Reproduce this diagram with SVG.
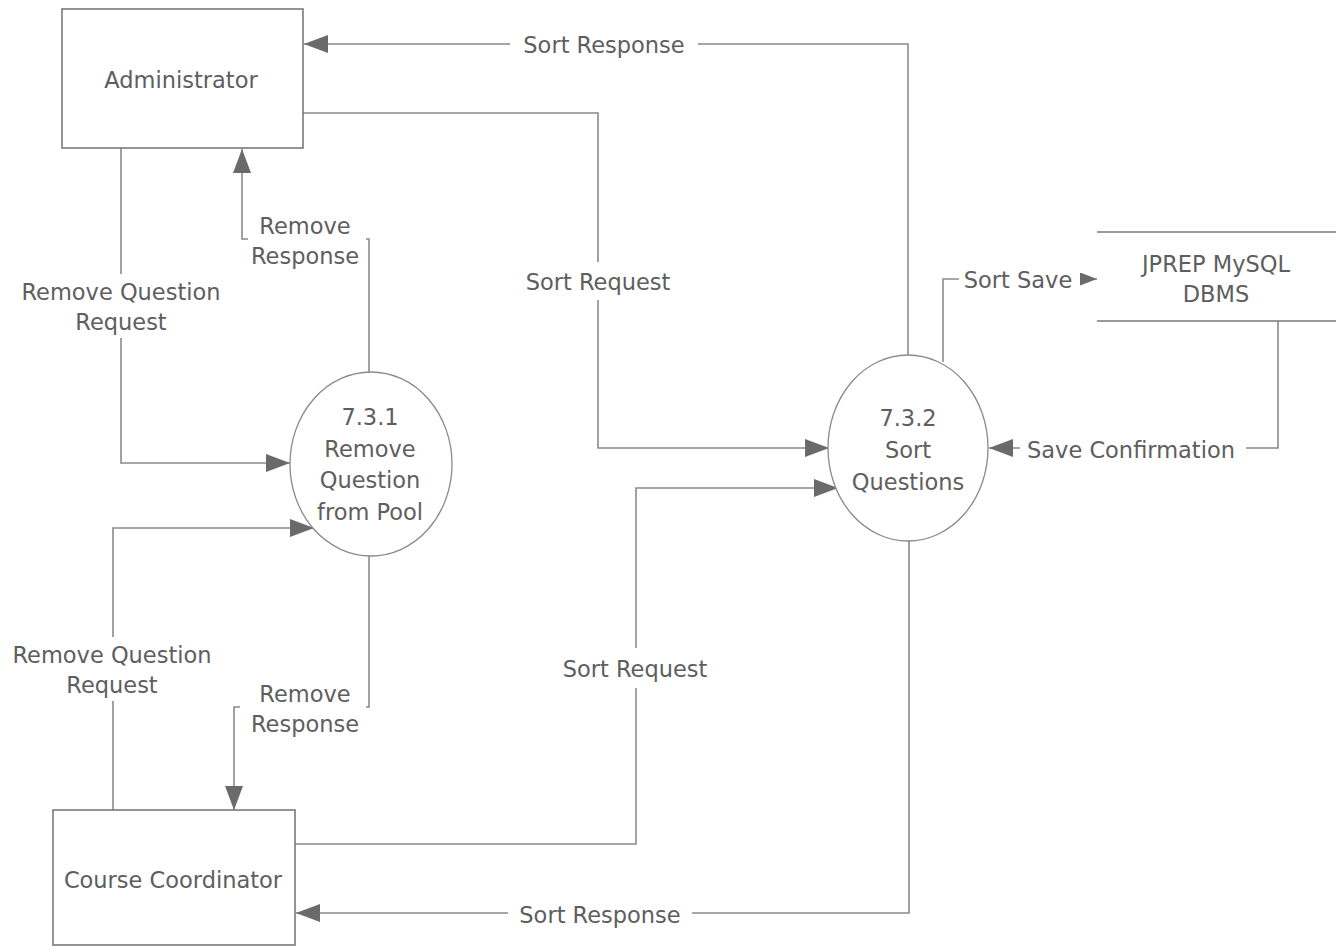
<svg xmlns="http://www.w3.org/2000/svg" width="1341" height="947" viewBox="0 0 1341 947">
<style>
.box{fill:#fff;stroke:#7a7a7a;stroke-width:1.6}
.proc{fill:#fff;stroke:#8a8a8a;stroke-width:1.3}
.store{stroke:#7a7a7a;stroke-width:1.6;fill:none}
.ln{fill:none;stroke:#8a8a8a;stroke-width:1.6}
.bg{fill:#fff;stroke:none}
text{font-family:"DejaVu Sans","Liberation Sans",sans-serif;font-size:22.5px;fill:#5e5e5e;text-anchor:middle}
</style>
<defs>
<marker id="arr" markerUnits="userSpaceOnUse" markerWidth="26" markerHeight="20" refX="24" refY="9" orient="auto">
<path d="M0,0 L24,9 L0,18 Z" fill="#6a6a6a"/>
</marker>
<marker id="arrs" markerUnits="userSpaceOnUse" markerWidth="18" markerHeight="14" refX="17" refY="6.5" orient="auto">
<path d="M0,0 L17,6.5 L0,13 Z" fill="#6a6a6a"/>
</marker>
</defs>
<rect width="1341" height="947" fill="#fff"/>
<g id="connectors">
<path class="ln" d="M908,355 V44 H304" marker-end="url(#arr)"/>
<rect class="bg" x="510" y="30" width="188" height="30"/>
<text x="604" y="53">Sort Response</text>
<path class="ln" d="M303,113 H598 V448 H829" marker-end="url(#arr)"/>
<rect class="bg" x="515" y="262" width="166" height="38"/>
<text x="598" y="290">Sort Request</text>
<path class="ln" d="M121,148 V463 H290" marker-end="url(#arr)"/>
<rect class="bg" x="12" y="274" width="218" height="64"/>
<text x="121" y="300">Remove Question</text>
<text x="121" y="330">Request</text>
<path class="ln" d="M369,372 V239 H242 V149" marker-end="url(#arr)"/>
<rect class="bg" x="248" y="208" width="118" height="64"/>
<text x="305" y="234">Remove</text>
<text x="305" y="264">Response</text>
<path class="ln" d="M113,810 V528 H314" marker-end="url(#arr)"/>
<rect class="bg" x="4" y="637" width="216" height="64"/>
<text x="112" y="663">Remove Question</text>
<text x="112" y="693">Request</text>
<path class="ln" d="M369,556 V707 H234 V810" marker-end="url(#arr)"/>
<rect class="bg" x="240" y="676" width="126" height="64"/>
<text x="305" y="702">Remove</text>
<text x="305" y="732">Response</text>
<path class="ln" d="M295,844 H636 V488 H838" marker-end="url(#arr)"/>
<rect class="bg" x="552" y="648" width="166" height="40"/>
<text x="635" y="677">Sort Request</text>
<path class="ln" d="M909,540 V913 H296" marker-end="url(#arr)"/>
<rect class="bg" x="508" y="898" width="184" height="32"/>
<text x="600" y="923">Sort Response</text>
<path class="ln" d="M943,362 V279 H1097" marker-end="url(#arrs)"/>
<rect class="bg" x="959" y="262" width="121" height="34"/>
<text x="1018" y="288">Sort Save</text>
<path class="ln" d="M1278,321 V448 H989" marker-end="url(#arr)"/>
<rect class="bg" x="1020" y="432" width="226" height="34"/>
<text x="1131" y="458">Save Confirmation</text>
</g>
<g id="administrator">
<rect class="box" x="62" y="9" width="241" height="139"/>
<text x="181" y="88">Administrator</text>
</g>
<g id="course-coordinator">
<rect class="box" x="53" y="810" width="242" height="135"/>
<text x="173" y="888">Course Coordinator</text>
</g>
<g id="p731">
<ellipse class="proc" cx="371" cy="464" rx="81" ry="92"/>
<text x="370" y="425">7.3.1</text>
<text x="370" y="457">Remove</text>
<text x="370" y="488">Question</text>
<text x="370" y="520">from Pool</text>
</g>
<g id="p732">
<ellipse class="proc" cx="908" cy="448" rx="80" ry="93"/>
<text x="908" y="426">7.3.2</text>
<text x="908" y="458">Sort</text>
<text x="908" y="490">Questions</text>
</g>
<g id="dbms">
<path class="store" d="M1097,232 H1336 M1097,321 H1336"/>
<text x="1216" y="272">JPREP MySQL</text>
<text x="1216" y="302">DBMS</text>
</g>
</svg>
